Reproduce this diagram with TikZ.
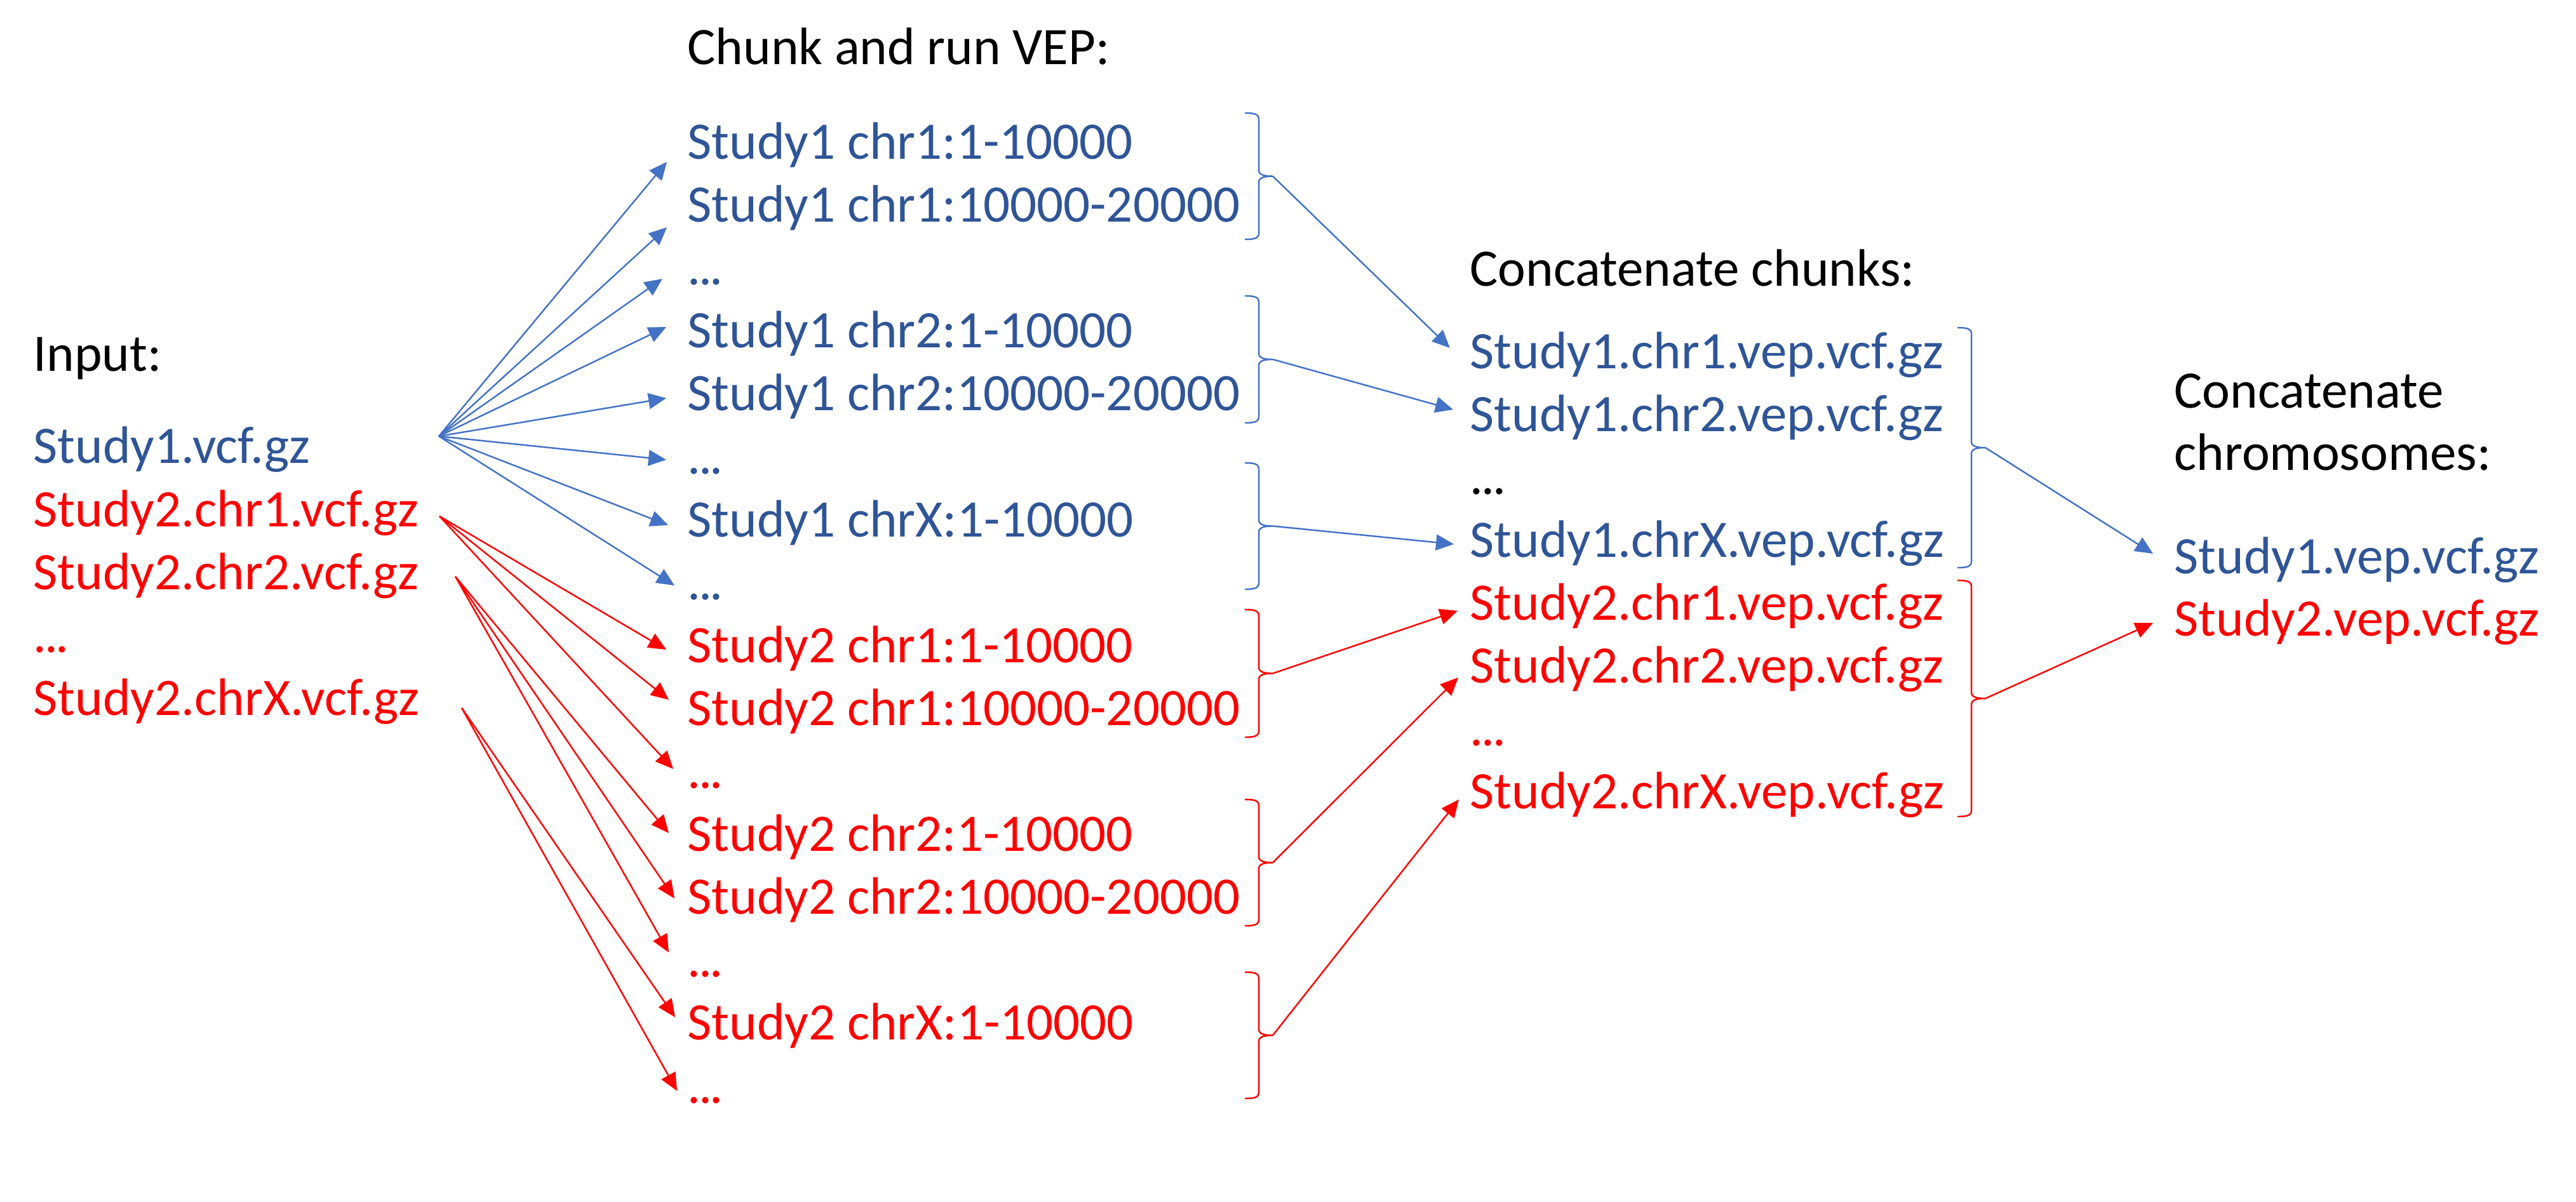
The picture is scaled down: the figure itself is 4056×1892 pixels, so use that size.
\documentclass[tikz,border=0pt]{standalone}
\usepackage{fontspec}
\setmainfont{Carlito}
\usetikzlibrary{arrows.meta}

\definecolor{studyblue}{HTML}{2F5597}
\definecolor{linkblue}{HTML}{4472C4}
\definecolor{studyred}{HTML}{FF0000}

% three close dots
\newcommand{\ellip}{.\kern-0.04em.\kern-0.04em.}

% right brace: style, tip name, x, top, bottom
\newcommand{\chunkbrace}[5]{%
  \pgfmathsetmacro{\bmid}{(#4+#5)/2}
  \draw[#1] (#3-22,#4) .. controls (#3-6,#4) and (#3,#4+2) .. (#3,#4+10)
    -- (#3,\bmid-10) .. controls (#3,\bmid-3) and (#3+6,\bmid) .. (#3+22,\bmid)
    .. controls (#3+6,\bmid) and (#3,\bmid+3) .. (#3,\bmid+10)
    -- (#3,#5-10) .. controls (#3,#5-2) and (#3-6,#5) .. (#3-22,#5);
  \coordinate (#2) at (#3+22,\bmid);
}

\begin{document}
\begin{tikzpicture}[x=0.1mm, y=-0.1mm,
    lbl/.style={anchor=base west, inner sep=0pt, font=\fontsize{8.3mm}{10mm}\selectfont},
    head/.style={lbl, text=black},
    sone/.style={lbl, text=studyblue},
    stwo/.style={lbl, text=studyred},
    bluelink/.style={color=linkblue, line width=0.7pt, -{Triangle[length=2.8mm, width=2.5mm]}},
    redlink/.style={color=studyred, line width=0.7pt, -{Triangle[length=2.8mm, width=2.5mm]}},
    bluebrace/.style={color=linkblue, line width=0.7pt},
    redbrace/.style={color=studyred, line width=0.7pt}]
    \useasboundingbox (0,0) rectangle (4056,1892);

    % Headings
    \node[head] (h1) at (52,584) {Input:};
    \node[head] (h2) at (1082,102) {Chunk and run VEP:};
    \node[head] (h3) at (2314,450) {Concatenate chunks:};
    \node[head] (h4) at (3423,642) {Concatenate};
    \node[head] (h5) at (3423,740) {chromosomes:};

    % Input files
    \node[sone] (i1) at (52,729) {Study1.vcf.gz};
    \node[stwo] (i2) at (52,829) {Study2.chr1.vcf.gz};
    \node[stwo] (i3) at (52,928) {Study2.chr2.vcf.gz};
    \node[stwo] (i4) at (52,1027) {\ellip};
    \node[stwo] (i5) at (52,1126) {Study2.chrX.vcf.gz};

    % Chunks for study 1
    \node[sone] (k1) at (1082,250) {Study1 chr1:1-10000};
    \node[sone] (k2) at (1082,349) {Study1 chr1:10000-20000};
    \node[sone] (k3) at (1082,448) {\ellip};
    \node[sone] (k4) at (1082,547) {Study1 chr2:1-10000};
    \node[sone] (k5) at (1082,646) {Study1 chr2:10000-20000};
    \node[sone] (k6) at (1082,746) {\ellip};
    \node[sone] (k7) at (1082,845) {Study1 chrX:1-10000};
    \node[sone] (k8) at (1082,944) {\ellip};

    % Chunks for study 2
    \node[stwo] (k9) at (1082,1043) {Study2 chr1:1-10000};
    \node[stwo] (k10) at (1082,1142) {Study2 chr1:10000-20000};
    \node[stwo] (k11) at (1082,1241) {\ellip};
    \node[stwo] (k12) at (1082,1340) {Study2 chr2:1-10000};
    \node[stwo] (k13) at (1082,1439) {Study2 chr2:10000-20000};
    \node[stwo] (k14) at (1082,1538) {\ellip};
    \node[stwo] (k15) at (1082,1637) {Study2 chrX:1-10000};
    \node[stwo] (k16) at (1082,1737) {\ellip};

    % Concatenated chunks
    \node[sone] (c1) at (2314,580) {Study1.chr1.vep.vcf.gz};
    \node[sone] (c2) at (2314,679) {Study1.chr2.vep.vcf.gz};
    \node[head] (c3) at (2314,778) {\ellip};
    \node[sone] (c4) at (2314,877) {Study1.chrX.vep.vcf.gz};
    \node[stwo] (c5) at (2314,976) {Study2.chr1.vep.vcf.gz};
    \node[stwo] (c6) at (2314,1075) {Study2.chr2.vep.vcf.gz};
    \node[stwo] (c7) at (2314,1174) {\ellip};
    \node[stwo] (c8) at (2314,1273) {Study2.chrX.vep.vcf.gz};

    % Final files
    \node[sone] (f1) at (3423,903) {Study1.vep.vcf.gz};
    \node[stwo] (f2) at (3423,1001) {Study2.vep.vcf.gz};

    % Fan points next to the inputs
    \coordinate (fanA) at (691,687);
    \coordinate (fanB) at (692,813);
    \coordinate (fanC) at (717,908);
    \coordinate (fanD) at (727,1115);

    % Study1 is split into all chunks
    \draw[bluelink] (fanA) -- ([shift={(-32,5)}]k1.base west);
    \draw[bluelink] (fanA) -- ([shift={(-32,9)}]k2.base west);
    \draw[bluelink] (fanA) -- ([shift={(-39,-9)}]k3.base west);
    \draw[bluelink] (fanA) -- ([shift={(-33,-32)}]k4.base west);
    \draw[bluelink] (fanA) -- ([shift={(-33,-19)}]k5.base west);
    \draw[bluelink] (fanA) -- ([shift={(-33,-22)}]k6.base west);
    \draw[bluelink] (fanA) -- ([shift={(-30,-18)}]k7.base west);
    \draw[bluelink] (fanA) -- ([shift={(-20,-22)}]k8.base west);

    % Study2 chromosome files are split per chromosome
    \draw[redlink] (fanB) -- ([shift={(-33,-20)}]k9.base west);
    \draw[redlink] (fanB) -- ([shift={(-29,-40)}]k10.base west);
    \draw[redlink] (fanB) -- ([shift={(-22,-30)}]k11.base west);
    \draw[redlink] (fanC) -- ([shift={(-29,-28)}]k12.base west);
    \draw[redlink] (fanC) -- ([shift={(-20,-24)}]k13.base west);
    \draw[redlink] (fanC) -- ([shift={(-29,-38)}]k14.base west);
    \draw[redlink] (fanD) -- ([shift={(-19,-35)}]k15.base west);
    \draw[redlink] (fanD) -- ([shift={(-16,-19)}]k16.base west);

    % Braces round the chunks of one chromosome
    \chunkbrace{bluebrace}{t1}{1982}{178}{377}
    \chunkbrace{bluebrace}{t2}{1982}{466}{666}
    \chunkbrace{bluebrace}{t3}{1982}{729}{928}
    \chunkbrace{redbrace}{t4}{1982}{960}{1161}
    \chunkbrace{redbrace}{t5}{1982}{1259}{1458}
    \chunkbrace{redbrace}{t6}{1982}{1531}{1730}

    % Braces round the chromosomes of one study
    \chunkbrace{bluebrace}{t7}{3104}{516}{894}
    \chunkbrace{redbrace}{t8}{3104}{914}{1286}

    % Chunks are concatenated
    \draw[bluelink] (t1) -- ([shift={(-31,-32)}]c1.base west);
    \draw[bluelink] (t2) -- ([shift={(-26,-34)}]c2.base west);
    \draw[bluelink] (t3) -- ([shift={(-25,-20)}]c4.base west);
    \draw[redlink] (t4) -- ([shift={(-19,-14)}]c5.base west);
    \draw[redlink] (t5) -- ([shift={(-18,-8)}]c6.base west);
    \draw[redlink] (t6) -- ([shift={(-17,-14)}]c8.base west);

    % Chromosomes are concatenated
    \draw[bluelink] (t7) -- ([shift={(-33,-31)}]f1.base west);
    \draw[redlink] (t8) -- ([shift={(-33,-20)}]f2.base west);
\end{tikzpicture}
\end{document}
